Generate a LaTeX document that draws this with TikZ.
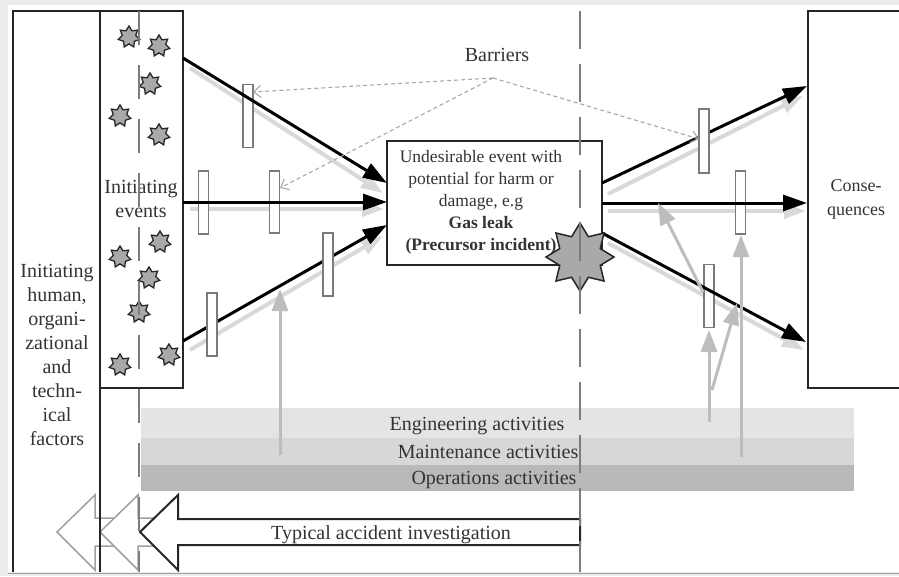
\documentclass[tikz,border=0pt]{standalone}
\usepackage{fontspec}
\setmainfont{Liberation Serif}
\usetikzlibrary{arrows.meta,shapes.geometric}
\definecolor{ink}{HTML}{262626}
\definecolor{txt}{HTML}{333333}
\definecolor{frame}{HTML}{EDEDED}
\definecolor{barrierline}{HTML}{7A7A7A}
\definecolor{shadowgray}{HTML}{D9D9D9}
\definecolor{supportgray}{HTML}{BDBDBD}
\definecolor{linkgray}{HTML}{A8A8A8}
\definecolor{dashgray}{HTML}{7C7C7C}
\definecolor{engfill}{HTML}{E4E4E4}
\definecolor{mntfill}{HTML}{D7D7D7}
\definecolor{opsfill}{HTML}{B9B9B9}
\definecolor{starfill}{HTML}{A9A9A9}
\definecolor{chevron}{HTML}{A0A0A0}

\begin{document}
\begin{tikzpicture}[x=1pt,y=-1pt,
  lbl/.style={text=txt, font=\fontsize{20}{24}\selectfont, inner sep=0pt, align=center},
  smalllbl/.style={text=txt, font=\fontsize{17.5}{22}\selectfont, inner sep=0pt, align=center},
  boxline/.style={draw=ink, line width=2pt},
  barrier/.style={rectangle, draw=barrierline, fill=white, line width=1.5pt,
                  minimum width=10pt, minimum height=63pt, inner sep=0pt},
  flow/.style={draw=black, line width=3pt, -{Triangle[length=24pt,width=16pt]}},
  flowshadow/.style={draw=shadowgray, line width=4pt, -{Triangle[length=22pt,width=15pt]}},
  support/.style={draw=supportgray, line width=3pt, -{Triangle[length=22pt,width=16pt]}},
  barlink/.style={draw=linkgray, line width=1.1pt, dash pattern=on 4pt off 3pt,
                  -{Straight Barb[length=7pt,width=12pt]}},
  timeline/.style={draw=dashgray, line width=1.8pt},
  spark/.style={star, star points=7, star point ratio=1.6, minimum size=22pt,
                inner sep=0pt, fill=starfill, draw=ink, line width=1.3pt},
]
\useasboundingbox (0,0) rectangle (899,576);

% page frame
\fill[frame] (0,0) rectangle (899,576);
\fill[white] (8,5) rectangle (899,572);
\draw[gray!75, line width=1pt] (8,573) -- (899,573);

% activity bands
\fill[engfill] (141,408) rectangle (854,438);
\fill[mntfill] (141,438) rectangle (854,465);
\fill[opsfill] (141,465) rectangle (854,491);
\node[lbl, anchor=base] (eng) at (477,430) {Engineering activities};
\node[lbl, anchor=base] (mnt) at (488,458) {Maintenance activities};
\node[lbl, anchor=base] (ops) at (494,484) {Operations activities};

% accident investigation arrows (grey echoes, then the main one)
\filldraw[draw=chevron, fill=white, line width=1.5pt]
  (57,532) -- (95,495) -- (95,518) -- (125,518) -- (125,546) -- (95,546) -- (95,570) -- cycle;
\filldraw[draw=chevron, fill=white, line width=1.5pt]
  (100,532) -- (138,495) -- (138,518) -- (165,518) -- (165,546) -- (138,546) -- (138,570) -- cycle;
\filldraw[draw=ink, fill=white, line width=2pt]
  (140,532) -- (178,495) -- (178,519) -- (580,519) -- (580,545) -- (178,545) -- (178,570) -- cycle;
\node[lbl, anchor=base] (inv) at (391,539) {Typical accident investigation};

% outer boxes
\draw[boxline] (13,572) -- (13,11) -- (183,11) -- (183,388) -- (100,388);
\draw[boxline] (100,11) -- (100,572);
\draw[boxline] (905,11) -- (808,11) -- (808,388) -- (905,388);

\node[lbl] (factors) at (57,355) {Initiating\\human,\\organi-\\zational\\and\\techn-\\ical\\factors};
\node[lbl] (initev) at (141,199) {Initiating\\events};
\node[smalllbl, font=\fontsize{18}{24}\selectfont] (cons) at (856,199) {Conse-\\quences};

% initiating events
\foreach \px/\py [count=\k] in {129/37,159/46,150/84,120/116,159/135,160/242,120/257,149/278,139/312,169/355,120/365}
  \node[spark] (ie\k) at (\px,\py) {};

% arrow end points
\coordinate (a1s) at (183,58);  \coordinate (a1e) at (387,183);
\coordinate (a2s) at (183,202); \coordinate (a2e) at (387,202);
\coordinate (a3s) at (183,341); \coordinate (a3e) at (387,225);
\coordinate (b1s) at (602,183); \coordinate (b1e) at (807,86);
\coordinate (b2s) at (602,203); \coordinate (b2e) at (807,203);
\coordinate (b3s) at (602,233); \coordinate (b3e) at (806,342);
\coordinate (a1ss) at (190,68);  \coordinate (a1se) at (383,193);
\coordinate (a2ss) at (190,209); \coordinate (a2se) at (384,209);
\coordinate (a3ss) at (190,350); \coordinate (a3se) at (383,236);
\coordinate (b1ss) at (608,194); \coordinate (b1se) at (803,96);
\coordinate (b2ss) at (608,211); \coordinate (b2se) at (806,211);
\coordinate (b3ss) at (608,243); \coordinate (b3se) at (804,350);

% shadows
\foreach \s in {a1,a2,a3,b1,b2,b3}
  \draw[flowshadow] (\s ss) -- (\s se);

% barriers that the flows cross over
\node[barrier] (r1) at (248,116) {};
\node[barrier] (r2) at (203.5,202.5) {};
\node[barrier, minimum height=62pt] (r3) at (274.5,202) {};
\node[barrier] (r7) at (740.5,202.5) {};
\node[barrier] (r8) at (709,296) {};

% the undesirable event
\node[rectangle, draw=ink, fill=white, line width=2pt, minimum width=215pt,
      minimum height=124pt, inner sep=0pt] (evt) at (494.5,203) {};
\node[smalllbl] (evttxt) at (481,202)
  {Undesirable event with\\potential for harm or\\damage, e.g\\\textbf{Gas leak}\\\textbf{(Precursor incident)}};

% flows
\foreach \s in {a1,a2,a3,b1,b2,b3}
  \draw[flow] (\s s) -- (\s e);

% barriers standing in front of the flows
\node[barrier] (r4) at (328,264.5) {};
\node[barrier] (r5) at (212,324.5) {};
\node[barrier, minimum height=64pt] (r6) at (704,141) {};

% precursor incident
\node[star, star points=8, star point ratio=1.55, minimum size=68pt, inner sep=0pt,
      fill=starfill, draw=ink, line width=1.5pt] (burst) at (580,257) {};

% barrier labels
\node[lbl, anchor=base] (barriers) at (497,61) {Barriers};
\coordinate (bhub) at (493,78);
\coordinate (l1) at (253,92);
\coordinate (l3) at (280,188);
\coordinate (l6) at (699,139);
\draw[barlink] (bhub) -- (l1);
\draw[barlink] (bhub) -- (l3);
\draw[barlink] (bhub) -- (l6);

% activities supporting the barriers
\coordinate (g1s) at (280,455); \coordinate (g1e) at (280,289);
\coordinate (g2s) at (741,457); \coordinate (g2e) at (741,235);
\coordinate (g3s) at (709,422); \coordinate (g3e) at (709,330);
\coordinate (g4s) at (712,390); \coordinate (g4e) at (737,303);
\coordinate (g5s) at (703,292); \coordinate (g5e) at (658,203);
\foreach \g in {g1,g2,g3,g4,g5}
  \draw[support] (\g s) -- (\g e);

% time lines
\draw[timeline, dash pattern=on 34pt off 20pt] (139,11) -- (139,572);
\draw[timeline, dash pattern=on 38pt off 15pt] (580,11) -- (580,572);
\end{tikzpicture}
\end{document}
